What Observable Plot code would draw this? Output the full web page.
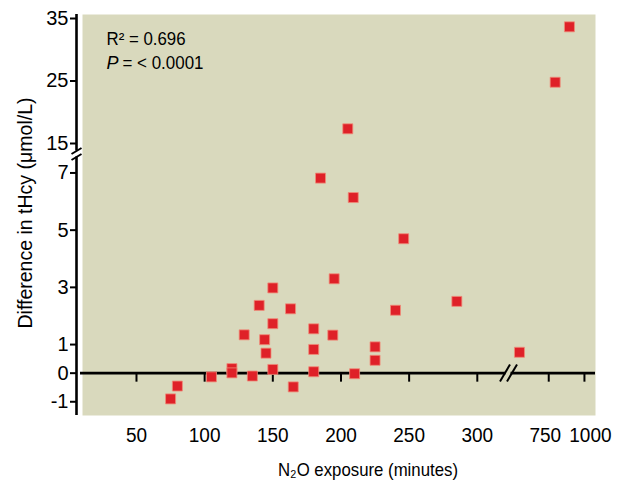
<!DOCTYPE html>
<html>
<head>
<meta charset="utf-8">
<script src="https://cdn.jsdelivr.net/npm/d3@7"></script>
<script src="https://cdn.jsdelivr.net/npm/@observablehq/plot@0.6"></script>
<style>
  html, body { margin: 0; padding: 0; background: #ffffff; }
  #chart svg { display: block; }
</style>
</head>
<body>
<div id="chart"></div>
<script>
// ---- data ----
const exposureMin = [75, 80, 105, 120, 120, 135, 129, 140, 144, 145, 150, 150, 150, 163, 165, 180, 180, 180, 185, 194, 195, 205, 209, 210, 225, 225, 240, 246, 285, 545, 795, 895];
const diffTHcy   = [-0.9, -0.45, -0.13, 0.16, 0.01, -0.1, 1.34, 2.37, 1.17, 0.70, 2.98, 1.73, 0.13, 2.25, -0.48, 1.55, 0.83, 0.05, 6.82, 1.33, 3.30, 17.35, 6.14, -0.02, 0.92, 0.45, 2.20, 4.70, 2.51, 0.73, 24.8, 33.67];
const xTickValues = [50, 100, 150, 200, 250, 300, 750, 1000];
const xTickLabels = ["50", "100", "150", "200", "250", "300", "750", "1000"];
const yTickValues = [-1, 0, 1, 3, 5, 7, 15, 25, 35];
const yTickLabels = ["-1", "0", "1", "3", "5", "7", "15", "25", "35"];
const statLine1 = "R² = 0.696";
const statP = "P";
const statLine2 = "= < 0.0001";
const xLabel = "N₂O exposure (minutes)";
const yLabel = "Difference in tHcy (μmol/L)";

// ---- broken-axis transforms (value -> axis units) ----
const ux = v => v < 400 ? v : 352.4 + (v - 750) * 0.10475;
const uy = v => v < 10 ? v : 8.03 + (v - 15) * 0.2185;

const W = 623, H = 488, mL = 82, mR = 28, mT = 14, mB = 73;
const xDom = [10.4, 386.7], yDom = [-1.48, 12.54];
const pxX = (W - mL - mR) / (xDom[1] - xDom[0]);
const pxY = (H - mT - mB) / (yDom[1] - yDom[0]);
const xp = p => xDom[0] + (p - mL) / pxX;
const yp = p => yDom[0] + (H - mB - p) / pxY;

const points = exposureMin.map((x, i) => ({x: ux(x), y: uy(diffTHcy[i])}));
const xTicksU = xTickValues.map(ux);
const yTicksU = yTickValues.map(uy);
const xFmt = new Map(xTicksU.map((u, i) => [u, xTickLabels[i]]));
const yFmt = new Map(yTicksU.map((u, i) => [u, yTickLabels[i]]));

const font = "'Liberation Sans', Arial, Helvetica, sans-serif";
const bg = "#d9d9bd";
const axisX0 = xp(76);
const yBreaks = [
  {x1: xp(71), y1: yp(153.5), x2: xp(81), y2: yp(147.5)},
  {x1: xp(71), y1: yp(159.5), x2: xp(81), y2: yp(153.5)}
];
const xBreaks = [
  {x1: xp(499.5), y1: yp(381), x2: xp(509.5), y2: yp(364)},
  {x1: xp(506.5), y1: yp(381), x2: xp(516.5), y2: yp(364)}
];

const chart = Plot.plot({
  width: W, height: H,
  marginLeft: mL, marginRight: mR, marginTop: mT, marginBottom: mB,
  x: {domain: xDom, axis: null},
  y: {domain: yDom, axis: null},
  style: {fontFamily: font, background: "#ffffff", color: "#000000"},
  marks: [
    Plot.frame({fill: bg, stroke: null}),
    Plot.ruleY([0], {stroke: "#000", strokeWidth: 2.6, insetLeft: -2}),
    Plot.ruleY([0], {x1: xp(505.5), x2: xp(510.5), stroke: bg, strokeWidth: 5}),
    Plot.ruleX(xTicksU, {y1: 0, y2: 0, insetBottom: -9, stroke: "#000", strokeWidth: 2}),
    Plot.axisX(xTicksU, {tickSize: 0, tickPadding: 12, tickFormat: d => xFmt.get(d), fontSize: 20, fill: "#000"}),
    Plot.ruleX([axisX0], {y1: yDom[0], y2: yp(156.5), stroke: "#000", strokeWidth: 2.6}),
    Plot.ruleX([axisX0], {y1: yp(150.5), y2: yDom[1], stroke: "#000", strokeWidth: 2.6}),
    Plot.axisY(yTicksU, {dx: -6, tickSize: 6, tickPadding: 2, strokeWidth: 2, tickFormat: d => yFmt.get(d), fontSize: 20, fill: "#000"}),
    Plot.link(yBreaks, {x1: "x1", y1: "y1", x2: "x2", y2: "y2", stroke: "#000", strokeWidth: 2}),
    Plot.link(xBreaks, {x1: "x1", y1: "y1", x2: "x2", y2: "y2", stroke: "#000", strokeWidth: 2}),
    Plot.dot(points, {x: "x", y: "y", symbol: "square", r: 5.64, fill: "#df2128", stroke: "#f08c78", strokeWidth: 0.8}),
    Plot.text([statLine1], {frameAnchor: "top-left", dx: 24, dy: 18, lineAnchor: "top", textAnchor: "start", fontSize: 18, fill: "#000"}),
    Plot.text([statP], {frameAnchor: "top-left", dx: 24, dy: 42, lineAnchor: "top", textAnchor: "start", fontSize: 18, fontStyle: "italic", fill: "#000"}),
    Plot.text([statLine2], {frameAnchor: "top-left", dx: 40, dy: 42, lineAnchor: "top", textAnchor: "start", fontSize: 18, fill: "#000"}),
    Plot.text([xLabel], {frameAnchor: "bottom", dx: 29, dy: 60, textAnchor: "middle", fontSize: 19, fill: "#000"}),
    Plot.text([yLabel], {frameAnchor: "left", dx: -57, dy: -2, rotate: -90, textAnchor: "middle", fontSize: 21, fill: "#000"})
  ]
});
document.getElementById("chart").appendChild(chart);

// narrow the type horizontally, like the condensed face in the reference
const svg = d3.select(chart);
function squeeze(sel, f) {
  sel.each(function() {
    const len = this.getComputedTextLength();
    if (len > 0) {
      this.setAttribute("textLength", (typeof f === "function" ? f(len, this) : len * f).toFixed(1));
      this.setAttribute("lengthAdjust", "spacingAndGlyphs");
    }
  });
}
const byText = t => svg.selectAll("text").filter(function() { return this.textContent === t; });
squeeze(svg.selectAll('g[aria-label="x-axis tick label"] text'), 0.95);
// the two labels after the x break sit slightly apart, as in the reference
byText("750").attr("dx", -3.5);
byText("1000").attr("dx", 6);
squeeze(byText(xLabel), () => 180);
squeeze(byText(yLabel), () => 231);
squeeze(byText(statLine1), () => 79);
squeeze(byText(statLine2), () => 81);
</script>
</body>
</html>
